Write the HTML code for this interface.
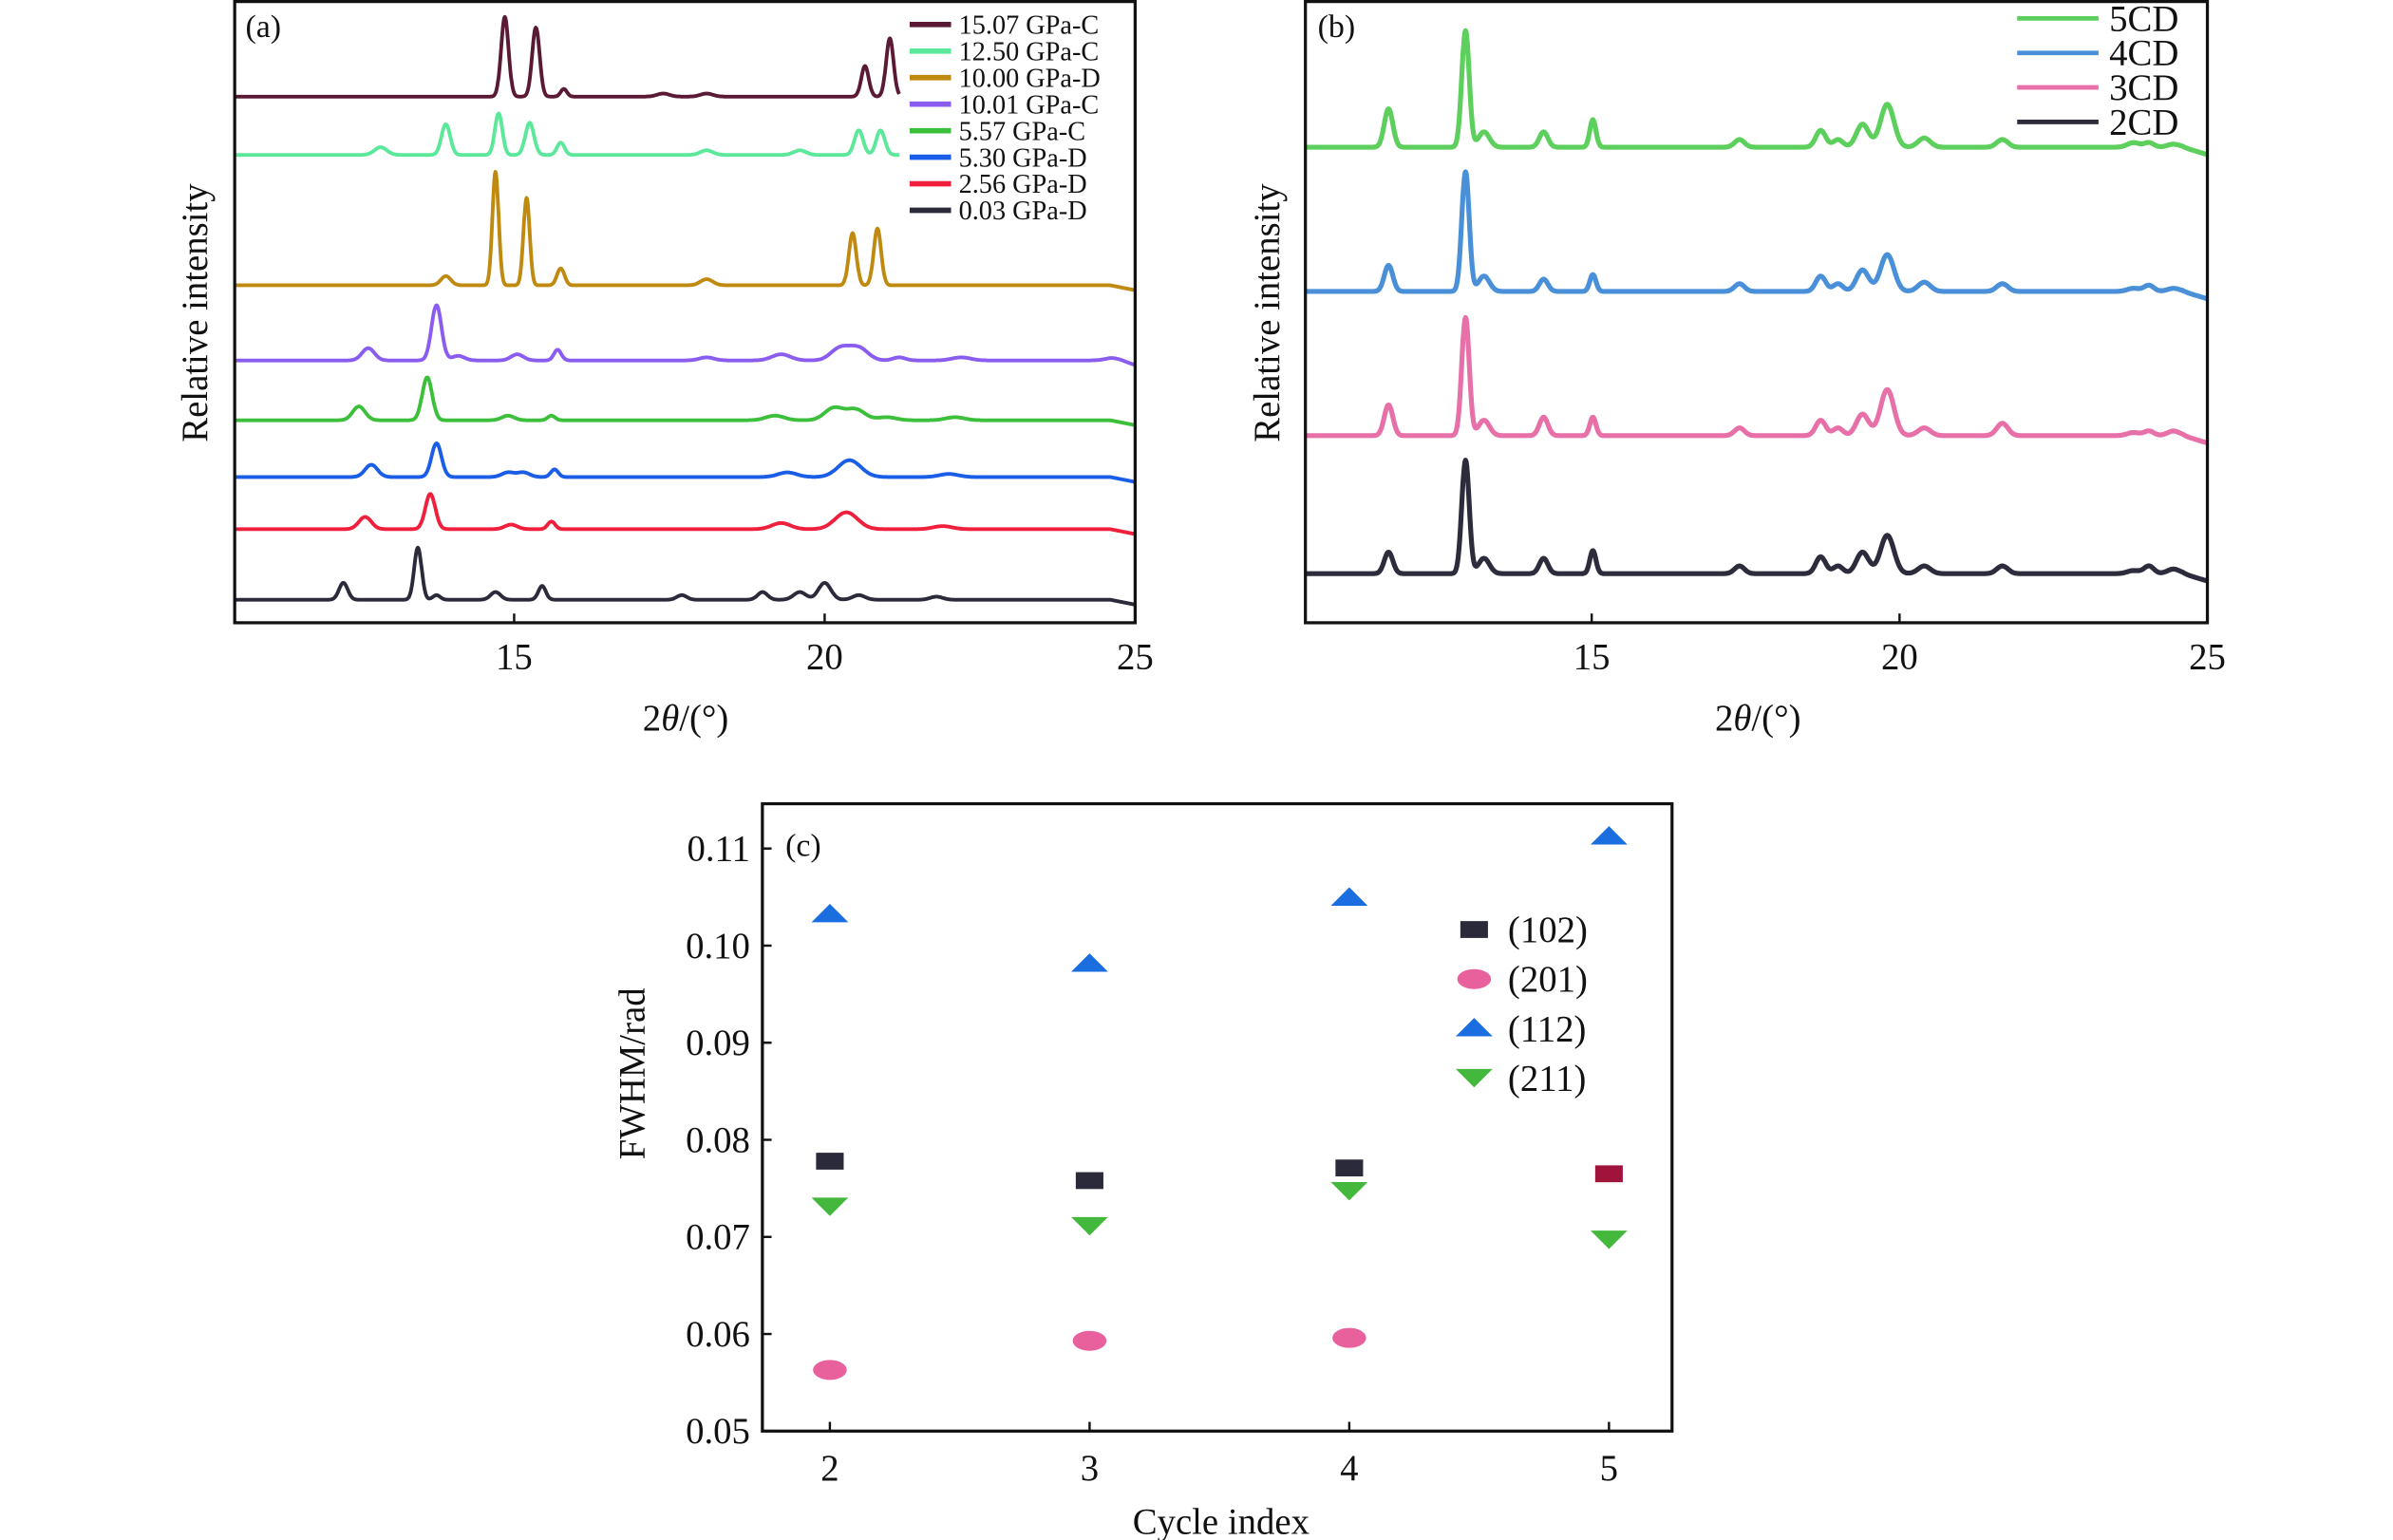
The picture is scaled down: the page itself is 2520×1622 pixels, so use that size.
<!DOCTYPE html>
<html><head><meta charset="utf-8">
<style>
html,body{margin:0;padding:0;background:#fff}
svg{display:block}
text{font-family:"Liberation Serif",serif;fill:#111}
</style></head>
<body>
<svg id="fig" width="2520" height="1622" viewBox="0 0 1560 1004" preserveAspectRatio="none" xmlns="http://www.w3.org/2000/svg">
<rect width="1560" height="1004" fill="#fff"/>
<g id="pa"></g>
<g id="pb"></g>
<g id="pc"></g>
</svg>
<script>
// ---- Panel (a) data ----
const aLabels = ["15.07 GPa-C","12.50 GPa-C","10.00 GPa-D","10.01 GPa-C","5.57 GPa-C","5.30 GPa-D","2.56 GPa-D","0.03 GPa-D"];
const aColors = ["#5a1a35","#5ce89a","#c08a10","#8a5cf0","#3cc03c","#1a5ee8","#f0203c","#2a2a3a"];
const aOffsets = [63,101,186,235,274,311,345,391];
const aEnd = [21.2,21.2,25,25,25,25,25,25];
const aPos = [
 [14.85,15.35,15.8,17.4,18.1,20.65,21.05],
 [12.85,13.9,14.75,15.25,15.75,18.1,19.6,20.55,20.9],
 [13.9,14.7,15.2,15.75,18.1,20.45,20.85],
 [12.65,13.75,14.1,15.05,15.7,18.1,19.3,20.25,20.55,21.2,22.2,24.7],
 [12.5,13.6,14.9,15.6,19.2,20.15,20.5,21.0,22.1],
 [12.7,13.75,14.9,15.15,15.65,19.4,20.4,22.0],
 [12.6,13.65,14.95,15.6,19.3,20.35,21.9],
 [12.25,13.45,13.75,14.7,15.45,17.7,19.0,19.6,20.0,20.55,21.8]
];
const aHeights = [
 [52,45,5,2,2,20,38],
 [5,20,27,21,8,3,3,16,16],
 [6,74,57,11,4,34,37],
 [8,36,3,4,7,2,4,8,8,2,2,2],
 [9,28,3,3,3,8,7,2,2],
 [8,22,3,3,5,3,11,2],
 [8,23,3,5,4,11,2],
 [11,34,3,5,9,3,5,5,11,3,2]
];
const aWidths = [
 [.06,.06,.05,.1,.1,.06,.06],
 [.1,.07,.06,.07,.06,.1,.1,.07,.07],
 [.08,.05,.05,.06,.1,.06,.06],
 [.1,.08,.1,.1,.06,.12,.15,.15,.15,.1,.15,.15],
 [.1,.08,.1,.06,.15,.15,.15,.15,.15],
 [.1,.08,.1,.1,.06,.15,.18,.15],
 [.1,.08,.1,.06,.15,.18,.15],
 [.07,.06,.06,.08,.06,.08,.08,.1,.1,.1,.1]
];
const aTicks = [15,20,25];
// ---- Panel (b) data ----
const bLabels = ["5CD","4CD","3CD","2CD"];
const bColors = ["#5ccf5c","#4a90d9","#e870a8","#2c2c3c"];
const bOffsets = [96,190,284,374];
const bPos = [11.7,12.95,13.25,14.22,15.02,17.4,18.72,19.0,19.4,19.8,20.4,21.67,23.8,24.05,24.45];
const bHeights = [
 [25,76,10,10,18,5,11,5,15,28,6,5,3,3,2],
 [17,78,10,8,11,5,10,5,14,24,6,5,2,4,2],
 [20,77,10,12,12,5,10,5,14,30,5,8,2,3,3],
 [14,74,10,10,15,5,11,5,14,25,5,5,2,5,3]
];
const bWidths = [.07,.06,.09,.07,.05,.08,.08,.08,.1,.11,.1,.09,.1,.08,.1];
const bTicks = [15,20,25];
// ---- Panel (c) data ----
const cCats = [2,3,4,5];
const cSeriesNames = ["(102)","(201)","(112)","(211)"];
const c102 = [0.0778,0.0758,0.0771,0.0765];
const c201 = [0.0563,0.0593,0.0596,null];
const c112 = [0.1032,0.0981,0.1049,0.1112];
const c211 = [0.0731,0.0711,0.0747,0.0697];
const cYTicks = [0.05,0.06,0.07,0.08,0.09,0.10,0.11];
const cYTickLabels = ["0.05","0.06","0.07","0.08","0.09","0.10","0.11"];

const NS="http://www.w3.org/2000/svg";
function mk(parent,tag,attrs,txt){const e=document.createElementNS(NS,tag);for(const k in attrs)e.setAttribute(k,attrs[k]);if(txt!=null)e.textContent=txt;parent.appendChild(e);return e;}

function spectrum(pos,hts,wds,x0,x1,xs,base,droop){
  let d="";
  for(let x=x0;x<=x1+1e-9;x+=0.01){
    let y=0;
    for(let i=0;i<pos.length;i++){const w=Array.isArray(wds)?wds[i]:wds;const u=(x-pos[i])/w;y+=hts[i]*Math.exp(-0.5*u*u);}
    if(droop && x>24.6) y-=(x-24.6)*droop;
    d+=(d?"L":"M")+xs(x).toFixed(1)+","+(base-y).toFixed(1);
  }
  return d;
}

// Panel a
(function(){
  const g=document.getElementById('pa');
  const L=153,R=740,T=1,B=406,xmin=10.5,xmax=25;
  const xs=v=>L+(v-xmin)/(xmax-xmin)*(R-L);
  for(let s=0;s<aLabels.length;s++){
    const p=mk(g,'path',{d:spectrum(aPos[s],aHeights[s],aWidths[s],xmin,aEnd[s],xs,aOffsets[s],aEnd[s]>24?8:0),fill:'none',stroke:aColors[s],'stroke-width':2.4,'stroke-linejoin':'round'});
    
    
  }
  mk(g,'rect',{x:L,y:T,width:R-L,height:B-T,fill:'none',stroke:'#111','stroke-width':2,});
  aTicks.forEach(t=>{
    const x=xs(t);
    const l=mk(g,'line',{x1:x,x2:x,y1:B,y2:B-6,stroke:'#111','stroke-width':1.5});
    
    const tx=mk(g,'text',{x:x,y:436,'font-size':24,'text-anchor':'middle'},String(t));
    
  });
  mk(g,'text',{x:447,y:476,'font-size':24,'text-anchor':'middle',}).innerHTML='2<tspan font-style="italic">θ</tspan>/(°)';
  mk(g,'text',{x:0,y:0,'font-size':24,'text-anchor':'middle',transform:'translate(135,204) rotate(-90)',},'Relative intensity');
  mk(g,'text',{x:160,y:24,'font-size':21,},'(a)');
  for(let s=0;s<aLabels.length;s++){
    const y=16+s*17.3;
    const l=mk(g,'line',{x1:593,x2:620,y1:y,y2:y,stroke:aColors[s],'stroke-width':3.5});
    
    const t=mk(g,'text',{x:625,y:y+6,'font-size':17.5},aLabels[s]);
    
  }
})();

// Panel b
(function(){
  const g=document.getElementById('pb');
  const L=851,R=1439,T=1,B=406,xmin=10.35,xmax=25;
  const xs=v=>L+(v-xmin)/(xmax-xmin)*(R-L);
  for(let s=0;s<bLabels.length;s++){
    const p=mk(g,'path',{d:spectrum(bPos,bHeights[s],bWidths,xmin,xmax,xs,bOffsets[s],12),fill:'none',stroke:bColors[s],'stroke-width':3.2,'stroke-linejoin':'round'});
    
    
  }
  mk(g,'rect',{x:L,y:T,width:R-L,height:B-T,fill:'none',stroke:'#111','stroke-width':2,});
  bTicks.forEach(t=>{
    const x=xs(t);
    const l=mk(g,'line',{x1:x,x2:x,y1:B,y2:B-6,stroke:'#111','stroke-width':1.5});
    
    const tx=mk(g,'text',{x:x,y:436,'font-size':24,'text-anchor':'middle'},String(t));
    
  });
  mk(g,'text',{x:1146,y:476,'font-size':24,'text-anchor':'middle',}).innerHTML='2<tspan font-style="italic">θ</tspan>/(°)';
  mk(g,'text',{x:0,y:0,'font-size':24,'text-anchor':'middle',transform:'translate(834,204) rotate(-90)',},'Relative intensity');
  mk(g,'text',{x:859,y:24,'font-size':21,},'(b)');
  for(let s=0;s<bLabels.length;s++){
    const y=12+s*22.5;
    const l=mk(g,'line',{x1:1315,x2:1368,y1:y,y2:y,stroke:bColors[s],'stroke-width':3});
    
    const t=mk(g,'text',{x:1375,y:y+8,'font-size':24},bLabels[s]);
    
  }
})();

// Panel c
(function(){
  const g=document.getElementById('pc');
  const L=497,R=1090,T=524,B=933;
  const xs=c=>541+(c-2)*169.3;
  const ys=v=>933-(v-0.05)/0.01*63.3;
  mk(g,'rect',{x:L,y:T,width:R-L,height:B-T,fill:'none',stroke:'#111','stroke-width':2,});
  cYTicks.forEach((v,i)=>{
    const y=ys(v);
    const l=mk(g,'line',{x1:L,x2:L+6,y1:y,y2:y,stroke:'#111','stroke-width':1.5});
    
    const t=mk(g,'text',{x:L-8,y:y+8,'font-size':24,'text-anchor':'end'},cYTickLabels[i]);
    
  });
  cCats.forEach(c=>{
    const x=xs(c);
    const l=mk(g,'line',{x1:x,x2:x,y1:B,y2:B-6,stroke:'#111','stroke-width':1.5});
    
    const t=mk(g,'text',{x:x,y:965,'font-size':24,'text-anchor':'middle'},String(c));
    
  });
  mk(g,'text',{x:796,y:1000,'font-size':24,'text-anchor':'middle',},'Cycle index');
  mk(g,'text',{x:0,y:0,'font-size':24,'text-anchor':'middle',transform:'translate(420,700) rotate(-90)',},'FWHM/rad');
  mk(g,'text',{x:512,y:558,'font-size':21,},'(c)');
  function marker(type,x,y,color,name){
    let e;
    if(type==='sq') e=mk(g,'rect',{x:x-9,y:y-5.5,width:18,height:11,fill:color});
    else if(type==='ci') e=mk(g,'ellipse',{cx:x,cy:y,rx:11,ry:6.5,fill:color});
    else if(type==='up') e=mk(g,'polygon',{points:`${x-12},${y+5} ${x+12},${y+5} ${x},${y-7}`,fill:color});
    else e=mk(g,'polygon',{points:`${x-12},${y-6} ${x+12},${y-6} ${x},${y+6}`,fill:color});
    
    
  }
  cCats.forEach((c,i)=>{
    const x=xs(c);
    if(c102[i]!=null) marker('sq',x,ys(c102[i]),i===3?'#a0143c':'#2a2a3a','point-102');
    if(c201[i]!=null) marker('ci',x,ys(c201[i]),'#e8609c','point-201');
    if(c112[i]!=null) marker('up',x,ys(c112[i]),'#1a6ee0','point-112');
    if(c211[i]!=null) marker('dn',x,ys(c211[i]),'#44b83c','point-211');
  });
  const lt=['sq','ci','up','dn'], lc=['#2a2a3a','#e8609c','#1a6ee0','#44b83c'];
  cSeriesNames.forEach((n,i)=>{
    const y=606+i*32.3;
    marker(lt[i],961,y,lc[i],'legend-marker-c');
    const t=mk(g,'text',{x:983,y:y+8,'font-size':24},n);
    
  });
})();
</script>
</body></html>
